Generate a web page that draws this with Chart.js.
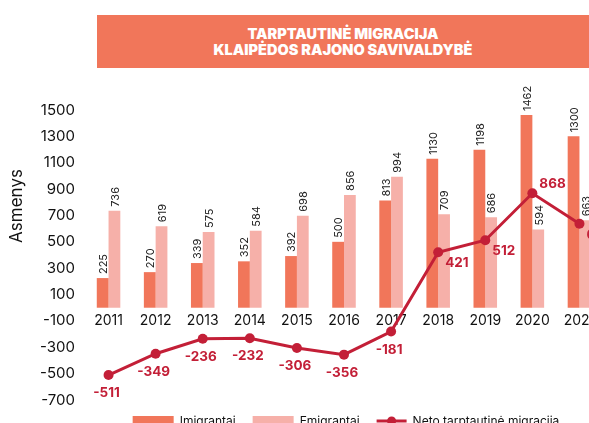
<!DOCTYPE html>
<html>
<head>
<meta charset="utf-8">
<script src="https://cdn.jsdelivr.net/npm/chart.js@4/dist/chart.umd.min.js"></script>
<style>
  html, body { margin: 0; padding: 0; background: #fff; }
  body { width: 589px; height: 423px; overflow: hidden; position: relative; font-family: Inter, sans-serif; }
  #banner {
    position: absolute; left: 97px; top: 15px; width: 492px; height: 53px;
    background: #F1765A; color: #fff; font-weight: 900; font-size: 14.5px;
    line-height: 16px; text-align: center; display: flex; flex-direction: column;
    justify-content: center;
  }
  #wrap { position: absolute; left: 0; top: 0; width: 608px; height: 423px; }
</style>
</head>
<body>
<div id="banner"><div>TARPTAUTINĖ MIGRACIJA</div><div>KLAIPĖDOS RAJONO SAVIVALDYBĖ</div></div>
<div id="wrap"><canvas id="chart" width="608" height="423"></canvas></div>
<script>
// values
const years = ['2011', '2012', '2013', '2014', '2015', '2016', '2017', '2018', '2019', '2020', '2021'];
const imigrantai = [225, 270, 339, 352, 392, 500, 813, 1130, 1198, 1462, 1300];
const emigrantai = [736, 619, 575, 584, 698, 856, 994, 709, 686, 594, 663];
const neto = [-511, -349, -236, -232, -306, -356, -181, 421, 512, 868, 637];
const yTicks = [-700, -500, -300, -100, 100, 300, 500, 700, 900, 1100, 1300, 1500];

const CORAL = '#F1765A';
const PINK = '#F6B0A9';
const RED = '#C31F37';
const FONT = 'Inter, sans-serif';

// value labels: rotated numbers above bars, bold red numbers next to the line points
const valueLabels = {
  id: 'valueLabels',
  afterDatasetsDraw(chart) {
    const ctx = chart.ctx;
    ctx.save();
    chart.data.datasets.forEach((ds, di) => {
      const meta = chart.getDatasetMeta(di);
      meta.data.forEach((el, i) => {
        const v = ds.data[i];
        if (ds.type === 'line') {
          ctx.font = '700 13.5px ' + FONT;
          ctx.fillStyle = RED;
          ctx.textBaseline = 'middle';
          if (v < 0) {
            ctx.textAlign = 'center';
            ctx.fillText(String(v), el.x - 2, el.y + 18);
          } else {
            const prev = ds.data[i - 1], next = ds.data[i + 1];
            const peak = (prev === undefined || v > prev) && (next === undefined || v > next);
            ctx.textAlign = 'left';
            ctx.fillText(String(v), el.x + 7, peak ? el.y - 9 : el.y + 11);
          }
        } else {
          ctx.save();
          ctx.translate(el.x, el.y - 4);
          ctx.rotate(-Math.PI / 2);
          ctx.font = '400 11px ' + FONT;
          ctx.fillStyle = '#222';
          ctx.textAlign = 'left';
          ctx.textBaseline = 'middle';
          ctx.fillText(String(v), 0, 1);
          ctx.restore();
        }
      });
    });
    ctx.restore();
  }
};

// side title and custom legend
const extras = {
  id: 'extras',
  afterDraw(chart) {
    const ctx = chart.ctx;
    ctx.save();
    ctx.translate(17, 206);
    ctx.rotate(-Math.PI / 2);
    ctx.font = '400 17px ' + FONT;
    ctx.fillStyle = '#111';
    ctx.textAlign = 'center';
    ctx.textBaseline = 'middle';
    ctx.fillText('Asmenys', 0, 0);
    ctx.restore();

    ctx.save();
    ctx.font = '400 12px ' + FONT;
    ctx.textBaseline = 'middle';
    ctx.textAlign = 'left';
    const items = chart.data.datasets.map(ds => ({
      label: ds.label, line: ds.type === 'line',
      color: ds.type === 'line' ? ds.borderColor : ds.backgroundColor
    }));
    const gap = 17;
    const widths = items.map(it => (it.line ? 30 : 41) + 6 + ctx.measureText(it.label).width);
    const total = widths.reduce((a, b) => a + b, 0) + gap * (items.length - 1);
    let x = 346 - total / 2;
    const y = 421;
    items.forEach(it => {
      if (it.line) {
        ctx.strokeStyle = it.color;
        ctx.lineWidth = 3;
        ctx.beginPath();
        ctx.moveTo(x, y); ctx.lineTo(x + 30, y);
        ctx.stroke();
        ctx.fillStyle = it.color;
        ctx.beginPath();
        ctx.arc(x + 15, y, 4.5, 0, Math.PI * 2);
        ctx.fill();
        x += 36;
      } else {
        ctx.fillStyle = it.color;
        ctx.fillRect(x, y - 5, 41, 10);
        x += 47;
      }
      ctx.fillStyle = '#111';
      ctx.fillText(it.label, x, y);
      x += ctx.measureText(it.label).width + gap;
    });
    ctx.restore();
  }
};

new Chart(document.getElementById('chart'), {
  type: 'bar',
  data: {
    labels: years,
    datasets: [
      { label: 'Imigrantai', data: imigrantai, backgroundColor: CORAL, order: 2,
        categoryPercentage: 0.5, barPercentage: 1.0 },
      { label: 'Emigrantai', data: emigrantai, backgroundColor: PINK, order: 2,
        categoryPercentage: 0.5, barPercentage: 1.0 },
      { type: 'line', label: 'Neto tarptautinė migracija', data: neto, order: 0,
        borderColor: RED, backgroundColor: RED, borderWidth: 3,
        pointRadius: 5, pointHoverRadius: 5, pointBackgroundColor: RED, pointBorderWidth: 0,
        tension: 0 }
    ]
  },
  options: {
    responsive: false,
    animation: false,
    layout: { padding: { top: 110, bottom: 23, left: 0, right: 0 } },
    plugins: { legend: { display: false }, tooltip: { enabled: false } },
    scales: {
      x: {
        position: { y: 0 },
        offset: true,
        afterFit(scale) { scale.paddingRight = 0; scale.paddingLeft = 0; },
        grid: { display: false, drawTicks: false },
        border: { display: false },
        ticks: { color: '#111', font: { family: FONT, size: 14 }, padding: 5, maxRotation: 0 }
      },
      y: {
        min: -700,
        max: 1500,
        afterBuildTicks(scale) { scale.ticks = yTicks.map(v => ({ value: v })); },
        afterFit(scale) { scale.width = 85; },
        grid: { display: false, drawTicks: false },
        border: { display: false },
        ticks: { color: '#111', font: { family: FONT, size: 15 }, padding: 10,
          callback: v => String(v) }
      }
    }
  },
  plugins: [valueLabels, extras]
});
</script>
</body>
</html>
